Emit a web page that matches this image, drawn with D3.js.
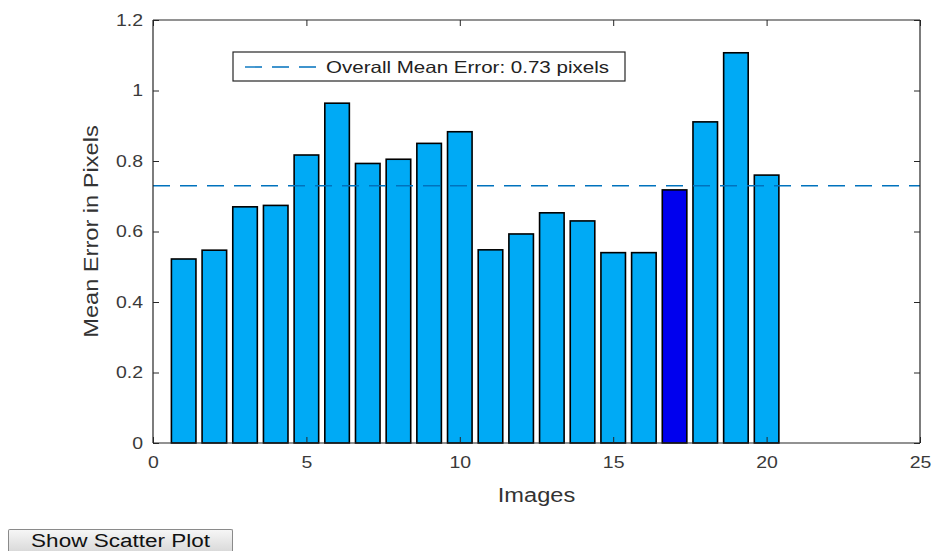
<!DOCTYPE html>
<html>
<head>
<meta charset="utf-8">
<script src="https://cdn.jsdelivr.net/npm/d3@7"></script>
<style>
  body { margin: 0; background: #fff; font-family: "Liberation Sans", Arial, sans-serif; }
  #chart { position: relative; width: 936px; height: 551px; overflow: hidden; }
  #scatterBtn {
    position: absolute; left: 8px; top: 529px; width: 225px; height: 22px;
    font: 18px/20px "Liberation Sans", Arial, sans-serif; color: #111;
    background: linear-gradient(#f6f6f6, #dadada); border: 1px solid #8a8a8a;
    border-bottom: none; border-radius: 2px 2px 0 0; padding: 0; text-align: center;
  }
  #scatterBtn span { display: inline-block; transform: scaleX(1.25); }
</style>
</head>
<body>
<div id="chart"></div>
<script>
// per-image mean reprojection error
const images = d3.range(1, 21);
const meanErrors = [0.522, 0.547, 0.670, 0.674, 0.817, 0.964, 0.793, 0.805, 0.850, 0.883,
                    0.548, 0.593, 0.653, 0.630, 0.540, 0.540, 0.718, 0.911, 1.107, 0.760];
const selectedImage = 17;
const overallMean = 0.73;
const xTicks = [0, 5, 10, 15, 20, 25];
const yTicks = [0, 0.2, 0.4, 0.6, 0.8, 1, 1.2];

const margin = { left: 153, right: 16, top: 20, bottom: 108 };
const W = 936, H = 551;
const stretch = 1.18; // the reference text is drawn a bit wide

const svg = d3.select("#chart").append("svg")
  .attr("width", W).attr("height", H);

const x = d3.scaleLinear().domain([0, 25]).range([margin.left, W - margin.right]);
const y = d3.scaleLinear().domain([0, 1.2]).range([H - margin.bottom, margin.top]);

/* bars */
const bw = (x(0.8) - x(0));
svg.selectAll(".bar")
  .data(images)
  .join("rect")
  .attr("class", "bar")
  .attr("x", d => x(d) - bw / 2)
  .attr("width", bw)
  .attr("y", (d, i) => y(meanErrors[i]))
  .attr("height", (d, i) => y(0) - y(meanErrors[i]))
  .style("fill", d => d === selectedImage ? "#0000ee" : "#00aaf5")
  .style("stroke", "#000")
  .style("stroke-width", 1.6);

/* overall mean dashed line */
svg.append("line")
  .attr("x1", x(0)).attr("x2", x(25))
  .attr("y1", y(overallMean)).attr("y2", y(overallMean))
  .style("stroke", "#0072bd")
  .style("stroke-width", 1.4)
  .style("stroke-dasharray", "17,10");

/* axes box, ticks inward on all sides */
const tickLen = 6;
const axisColor = "#262626";
const xb = d3.axisBottom(x).tickValues(xTicks).tickSize(-tickLen).tickPadding(13).tickFormat(d3.format("d"));
const xt = d3.axisTop(x).tickValues(xTicks).tickSize(-tickLen).tickFormat("");
const yl = d3.axisLeft(y).tickValues(yTicks).tickSize(-tickLen).tickPadding(10).tickFormat(d => d);
const yr = d3.axisRight(y).tickValues(yTicks).tickSize(-tickLen).tickFormat("");

function widen(sel) {
  sel.each(function() {
    const len = this.getComputedTextLength();
    if (len > 0) d3.select(this).attr("textLength", len * stretch).attr("lengthAdjust", "spacingAndGlyphs");
  });
}

function styleAxis(g) {
  g.selectAll("path").style("stroke", axisColor).style("stroke-width", 1.2);
  g.selectAll("line").style("stroke", axisColor).style("stroke-width", 1);
  g.selectAll("text").style("font-family", "'Liberation Sans', Arial, sans-serif")
    .style("font-size", "16.5px").style("fill", "#3a3a3a").call(widen);
}

svg.append("g").attr("transform", `translate(0,${y(0)})`).call(xb).call(styleAxis)
  .call(g => g.select(".domain").attr("d", `M${x(0)},0H${x(25)}`));
svg.append("g").attr("transform", `translate(0,${y(1.2)})`).call(xt).call(styleAxis)
  .call(g => g.select(".domain").attr("d", `M${x(0)},0H${x(25)}`));
svg.append("g").attr("transform", `translate(${x(0)},0)`).call(yl).call(styleAxis)
  .call(g => g.select(".domain").attr("d", `M0,${y(0)}V${y(1.2)}`));
svg.append("g").attr("transform", `translate(${x(25)},0)`).call(yr).call(styleAxis)
  .call(g => g.select(".domain").attr("d", `M0,${y(0)}V${y(1.2)}`));

/* axis labels */
svg.append("text")
  .attr("x", (x(0) + x(25)) / 2).attr("y", 502)
  .attr("text-anchor", "middle")
  .style("font-size", "20px").style("fill", "#333")
  .text("Images")
  .call(widen);

svg.append("text")
  .attr("transform", `translate(98,${(y(0) + y(1.2)) / 2}) rotate(-90)`)
  .attr("text-anchor", "middle")
  .style("font-size", "20px").style("fill", "#333")
  .text("Mean Error in Pixels")
  .call(widen);

/* legend */
const legend = svg.append("g").attr("transform", "translate(233,52)");
legend.append("rect")
  .attr("width", 392).attr("height", 29)
  .style("fill", "#fff").style("stroke", "#262626").style("stroke-width", 1.2);
legend.append("line")
  .attr("x1", 12).attr("x2", 84).attr("y1", 15).attr("y2", 15)
  .style("stroke", "#0072bd").style("stroke-width", 1.4)
  .style("stroke-dasharray", "17,10");
legend.append("text")
  .attr("x", 93).attr("y", 20.5)
  .attr("textLength", 283).attr("lengthAdjust", "spacingAndGlyphs")
  .style("font-size", "16.5px").style("fill", "#222")
  .text("Overall Mean Error: " + overallMean.toFixed(2) + " pixels");

d3.select("#chart").append("button").attr("id", "scatterBtn")
  .append("span").text("Show Scatter Plot");
</script>
</body>
</html>
